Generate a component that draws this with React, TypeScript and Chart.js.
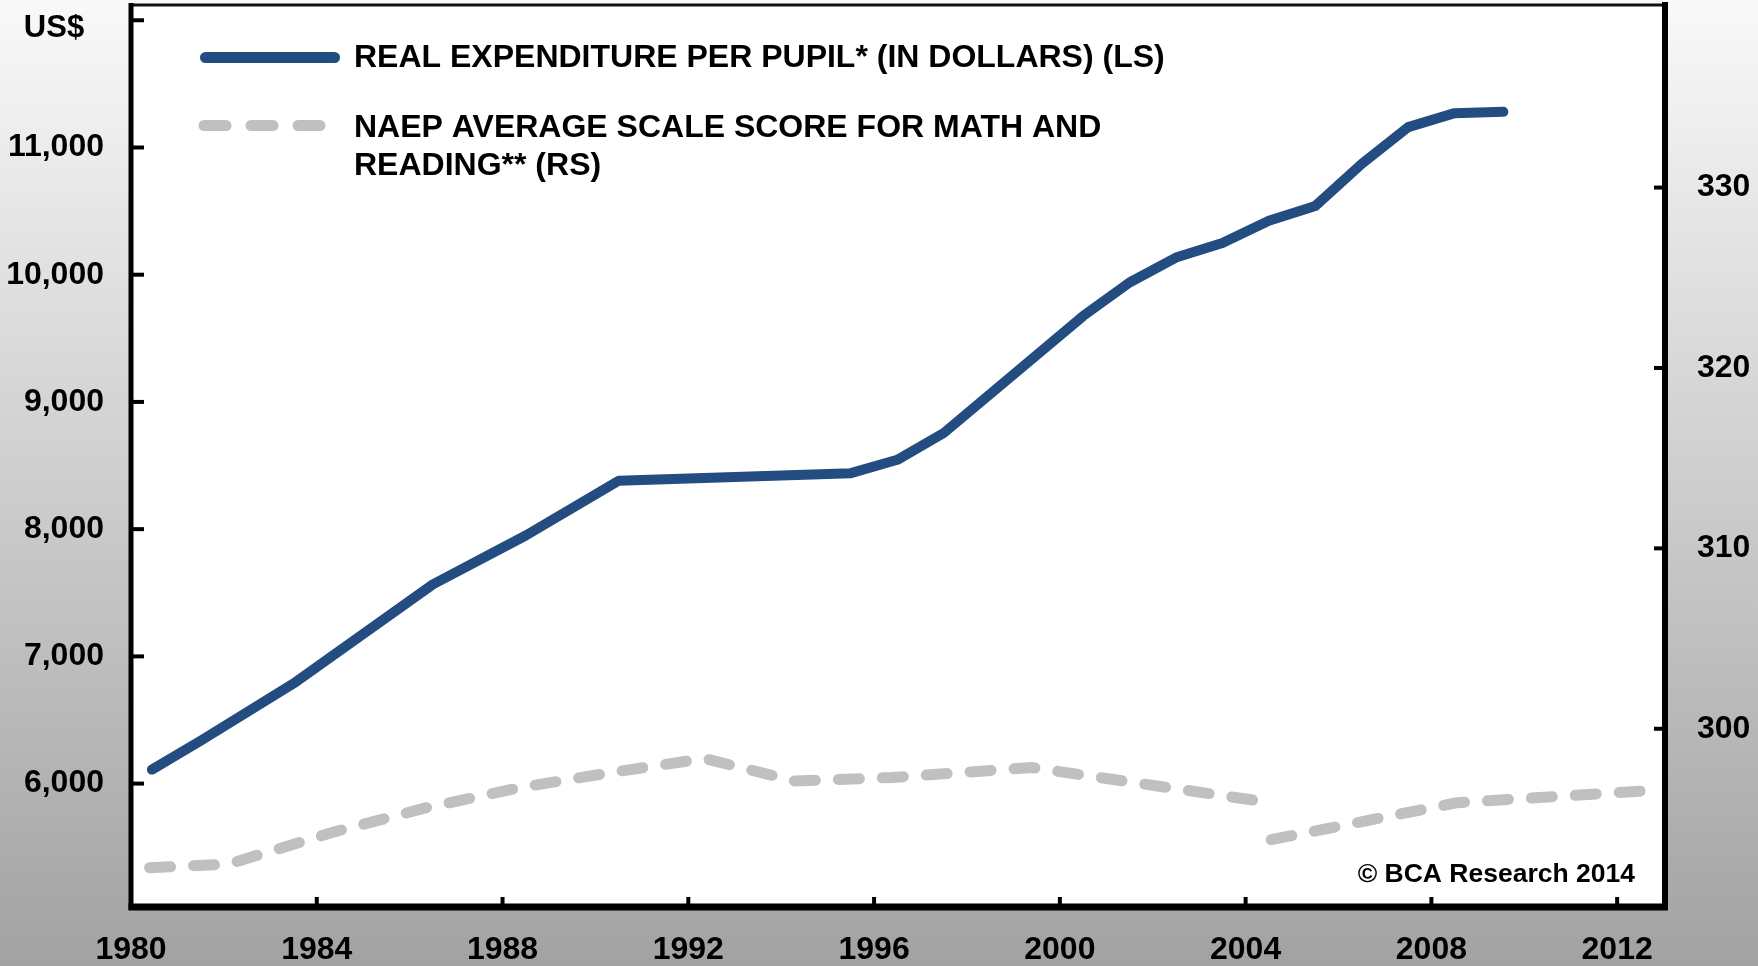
import React, { useEffect, useRef } from "react";
import { Chart, registerables } from "chart.js";

Chart.register(...registerables);

const W = 1758;
const H = 966;
const FONT = "'Liberation Sans', Arial, Helvetica, sans-serif";

// Real expenditure per pupil (left scale, US$)
const expenditureYears = [1980.45, 1981.5, 1983.55, 1986.5, 1988.5, 1990.5, 1995.5, 1996.5, 1997.5, 2000.5, 2001.5, 2002.5, 2003.5, 2004.5, 2005.5, 2006.5, 2007.5, 2008.5, 2009.55];
const expenditureValues = [6110, 6337, 6799, 7566, 7950, 8380, 8440, 8545, 8756, 9675, 9939, 10135, 10250, 10424, 10540, 10871, 11160, 11270, 11280];

// NAEP average scale score (right scale) – original format, then revised format
const naepYearsOld = [1980.4, 1982.1, 1984.4, 1986.4, 1988.4, 1990.4, 1992.35, 1994.3, 1996.4, 1999.4, 2004.55];
const naepScoresOld = [292.3, 292.5, 294.3, 295.65, 296.75, 297.6, 298.35, 297.1, 297.3, 297.85, 295.9];
const naepYearsNew = [2004.55, 2008.55, 2012.55];
const naepScoresNew = [293.85, 295.9, 296.55];

// Axis ticks
const xTickYears = [1980, 1984, 1988, 1992, 1996, 2000, 2004, 2008, 2012];
const leftTickValues = [6000, 7000, 8000, 9000, 10000, 11000, 12000];
const leftLabeledValues = [6000, 7000, 8000, 9000, 10000, 11000];
const rightTickValues = [300, 310, 320, 330];

// Texts
const legendLine1 = "REAL EXPENDITURE PER PUPIL* (IN DOLLARS) (LS)";
const legendLine2 = ["NAEP AVERAGE SCALE SCORE FOR MATH AND", "READING** (RS)"];
const leftUnit = "US$";
const copyright = "\u00A9 BCA Research 2014";

const BLUE = "#234c80";
const GRAY = "#c0c0c0";

const toPoints = (xs: number[], ys: number[]) => xs.map((x, i) => ({ x, y: ys[i] }));

const decorPlugin = {
  id: "decor",
  beforeDraw(chart: any) {
    const { ctx, chartArea: a } = chart;
    ctx.save();
    ctx.fillStyle = "#ffffff";
    ctx.fillRect(a.left, a.top, a.right - a.left, a.bottom - a.top);
    ctx.restore();
  },
  afterDatasetsDraw(chart: any) {
    const { ctx, chartArea: a, scales } = chart;
    ctx.save();
    ctx.strokeStyle = "#000";
    ctx.lineCap = "butt";
    ctx.lineWidth = 4;
    scales.x.ticks.forEach((t: any) => {
      const px = scales.x.getPixelForValue(t.value);
      ctx.beginPath();
      ctx.moveTo(px, a.bottom);
      ctx.lineTo(px, a.bottom - 10);
      ctx.stroke();
    });
    scales.y.ticks.forEach((t: any) => {
      const py = scales.y.getPixelForValue(t.value);
      ctx.beginPath();
      ctx.moveTo(a.left, py);
      ctx.lineTo(a.left + 13, py);
      ctx.stroke();
    });
    scales.y1.ticks.forEach((t: any) => {
      const py = scales.y1.getPixelForValue(t.value);
      ctx.beginPath();
      ctx.moveTo(a.right - 11, py);
      ctx.lineTo(a.right, py);
      ctx.stroke();
    });
    ctx.lineWidth = 3;
    ctx.strokeStyle = "#111";
    ctx.beginPath();
    ctx.moveTo(a.left, a.top);
    ctx.lineTo(a.right, a.top);
    ctx.stroke();
    ctx.strokeStyle = "#000";
    ctx.lineWidth = 5;
    ctx.beginPath();
    ctx.moveTo(a.left, a.top - 2);
    ctx.lineTo(a.left, a.bottom + 3);
    ctx.stroke();
    ctx.lineWidth = 6;
    ctx.beginPath();
    ctx.moveTo(a.right, a.top - 3);
    ctx.lineTo(a.right, a.bottom + 3);
    ctx.stroke();
    ctx.lineWidth = 7;
    ctx.beginPath();
    ctx.moveTo(a.left - 2.5, a.bottom);
    ctx.lineTo(a.right + 3, a.bottom);
    ctx.stroke();
    ctx.restore();
  },
  afterDraw(chart: any) {
    const { ctx, chartArea: a } = chart;
    ctx.save();
    ctx.lineCap = "round";
    ctx.strokeStyle = BLUE;
    ctx.lineWidth = 11;
    ctx.beginPath();
    ctx.moveTo(205.5, 57.5);
    ctx.lineTo(334.5, 57.5);
    ctx.stroke();
    ctx.strokeStyle = GRAY;
    ctx.setLineDash([22, 25]);
    ctx.beginPath();
    ctx.moveTo(204, 125.5);
    ctx.lineTo(320, 125.5);
    ctx.stroke();
    ctx.setLineDash([]);
    ctx.fillStyle = "#000";
    ctx.font = `bold 32px ${FONT}`;
    ctx.textAlign = "left";
    ctx.textBaseline = "middle";
    ctx.fillText(legendLine1, 354, 58.5);
    ctx.fillText(legendLine2[0], 354, 128.5);
    ctx.fillText(legendLine2[1], 354, 166.5);
    ctx.font = `bold 31px ${FONT}`;
    ctx.textAlign = "center";
    ctx.fillText(leftUnit, 54, 28);
    ctx.font = `bold 26.5px ${FONT}`;
    ctx.textAlign = "right";
    ctx.fillText(copyright, a.right - 30, 875);
    ctx.restore();
  },
};

export default function App() {
  const ref = useRef<HTMLCanvasElement>(null);

  useEffect(() => {
    const canvas = ref.current;
    if (!canvas) return;
    const tickFont = { family: FONT, size: 32, weight: "bold" as const };
    const chart = new Chart(canvas, {
      type: "line",
      data: {
        datasets: [
          {
            label: legendLine1,
            data: toPoints(expenditureYears, expenditureValues),
            borderColor: BLUE,
            borderWidth: 10,
            borderCapStyle: "round",
            borderJoinStyle: "round",
            pointRadius: 0,
            tension: 0,
            yAxisID: "y",
          },
          {
            label: legendLine2.join(" "),
            data: toPoints(naepYearsOld, naepScoresOld),
            borderColor: GRAY,
            borderWidth: 11,
            borderDash: [21, 23],
            borderCapStyle: "round",
            borderJoinStyle: "round",
            pointRadius: 0,
            tension: 0,
            yAxisID: "y1",
          },
          {
            label: legendLine2.join(" ") + " (new)",
            data: toPoints(naepYearsNew, naepScoresNew),
            borderColor: GRAY,
            borderWidth: 11,
            borderDash: [21, 23],
            borderCapStyle: "round",
            borderJoinStyle: "round",
            pointRadius: 0,
            tension: 0,
            yAxisID: "y1",
          },
        ],
      },
      options: {
        animation: false,
        responsive: false,
        devicePixelRatio: 1,
        events: [],
        layout: { padding: { top: 5, left: 0, right: 0, bottom: 0 } },
        plugins: { legend: { display: false }, tooltip: { enabled: false } },
        scales: {
          x: {
            type: "linear",
            min: 1980,
            max: 2013.03,
            grid: { display: false, drawTicks: false },
            border: { display: false },
            afterBuildTicks: (s: any) => {
              s.ticks = xTickYears.map((v) => ({ value: v }));
            },
            afterFit: (s: any) => {
              s.height = 59;
              s.paddingLeft = 0;
              s.paddingRight = 0;
            },
            ticks: {
              font: tickFont,
              color: "#000",
              padding: 24,
              maxRotation: 0,
              autoSkip: false,
              callback: (v: any) => String(v),
            },
          },
          y: {
            type: "linear",
            position: "left",
            min: 5030,
            max: 12120,
            grid: { display: false, drawTicks: false },
            border: { display: false },
            afterBuildTicks: (s: any) => {
              s.ticks = leftTickValues.map((v) => ({ value: v }));
            },
            afterFit: (s: any) => {
              s.width = 131;
              s.paddingTop = 0;
              s.paddingBottom = 0;
            },
            ticks: {
              font: tickFont,
              color: "#000",
              padding: 27,
              callback: (v: any) =>
                leftLabeledValues.includes(Number(v)) ? Number(v).toLocaleString("en-US") : "",
            },
          },
          y1: {
            type: "linear",
            position: "right",
            min: 290.12,
            max: 340.12,
            grid: { display: false, drawTicks: false },
            border: { display: false },
            afterBuildTicks: (s: any) => {
              s.ticks = rightTickValues.map((v) => ({ value: v }));
            },
            afterFit: (s: any) => {
              s.width = 93;
              s.paddingTop = 0;
              s.paddingBottom = 0;
            },
            ticks: {
              font: tickFont,
              color: "#000",
              padding: 32,
              callback: (v: any) => String(v),
            },
          },
        },
      },
      plugins: [decorPlugin],
    } as any);
    return () => chart.destroy();
  }, []);

  return (
    <div
      style={{
        position: "absolute",
        left: 0,
        top: 0,
        width: W,
        height: H,
        background: "linear-gradient(to bottom, #f9f9f9 0%, #a2a2a2 100%)",
      }}
    >
      <canvas ref={ref} width={W} height={H} style={{ display: "block", width: W, height: H }} />
    </div>
  );
}
